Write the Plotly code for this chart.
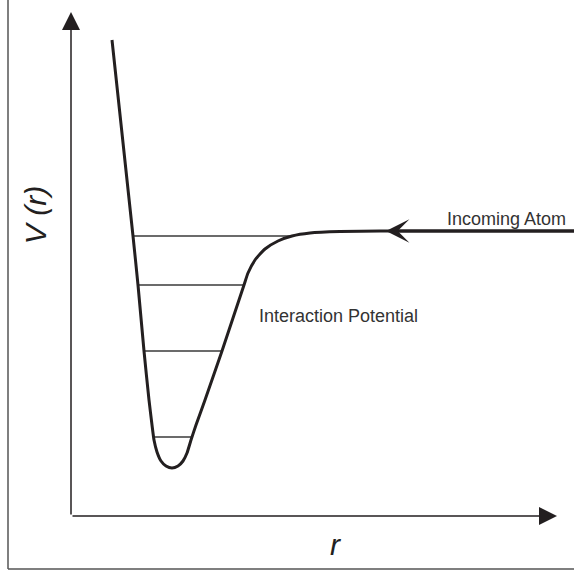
import plotly.graph_objects as go

# Interatomic potential V(r): a deep well with a steep repulsive wall,
# flattening to the dissociation limit (V = 0) at large r.
curve_r = [0.82, 1.24, 1.34, 1.46, 1.56, 1.62, 1.66, 1.72, 1.80, 1.90, 2.02,
           2.14, 2.24, 2.32, 2.40, 2.50, 2.68, 3.02, 3.46, 3.54, 3.68, 3.88,
           4.14, 4.42, 4.78, 5.38, 6.18, 10.06]
curve_V = [3.82, -0.10, -1.08, -2.40, -3.38, -3.88, -4.18, -4.42, -4.60, -4.70,
           -4.74, -4.70, -4.60, -4.44, -4.18, -3.88, -3.38, -2.40, -1.08, -0.84,
           -0.58, -0.36, -0.20, -0.10, -0.04, -0.01, 0.0, 0.0]

# Bound vibrational levels inside the well
level_V = [-0.10, -1.08, -2.40, -4.12]
level_r_left = [1.24, 1.34, 1.46, 1.66]
level_r_right = [4.42, 3.46, 3.02, 2.42]

# Axis extents
r_max = 10.06
V_min, V_max = -5.7, 4.62
r_axis_tip = 9.72
V_axis_tip = 4.38

# Incoming atom arrow along the asymptote
incoming_tip_r = 6.30

INK = "#231f20"
TEXT = "#333333"

fig = go.Figure()

lr, lv = [], []
for v, a, b in zip(level_V, level_r_left, level_r_right):
    lr += [a, b, None]
    lv += [v, v, None]
fig.add_trace(go.Scatter(x=lr, y=lv, mode="lines",
                         line=dict(color="#3a3a3a", width=1.3),
                         hoverinfo="skip"))

fig.add_trace(go.Scatter(x=curve_r, y=curve_V, mode="lines",
                         line=dict(color=INK, width=3, shape="spline",
                                   smoothing=0.5),
                         hoverinfo="skip"))

annotations = [
    # y axis with arrow
    dict(x=0, y=V_axis_tip, ax=0, ay=V_min, xref="x", yref="y",
         axref="x", ayref="y", text="", showarrow=True, arrowhead=2,
         arrowsize=2.4, arrowwidth=1.5, arrowcolor=INK,
         standoff=0, startstandoff=0),
    # x axis with arrow
    dict(x=r_axis_tip, y=V_min, ax=0, ay=V_min, xref="x", yref="y",
         axref="x", ayref="y", text="", showarrow=True, arrowhead=2,
         arrowsize=2.4, arrowwidth=1.5, arrowcolor=INK,
         standoff=0, startstandoff=0),
    # incoming atom arrow
    dict(x=incoming_tip_r, y=0, ax=r_max + 0.2, ay=0, xref="x", yref="y",
         axref="x", ayref="y", text="", showarrow=True, arrowhead=3,
         arrowsize=1.3, arrowwidth=3, arrowcolor=INK,
         standoff=0, startstandoff=0),
    dict(x=9.94, y=0.25, xref="x", yref="y", text="Incoming Atom",
         showarrow=False, xanchor="right", yanchor="middle",
         font=dict(family="Liberation Sans, Arial", size=18, color=TEXT)),
    dict(x=3.72, y=-1.69, xref="x", yref="y", text="Interaction Potential",
         showarrow=False, xanchor="left", yanchor="middle",
         font=dict(family="Liberation Sans, Arial", size=18, color=TEXT)),
    # axis titles
    dict(x=0.525, y=-0.056, xref="paper", yref="paper", text="<i>r</i>",
         showarrow=False, xanchor="center", yanchor="middle",
         font=dict(family="Liberation Sans, Arial", size=30, color=INK)),
    dict(x=-0.0716, y=0.583, xref="paper", yref="paper", text="<i>V (r)</i>",
         showarrow=False, xanchor="center", yanchor="middle", textangle=-90,
         font=dict(family="Liberation Sans, Arial", size=30, color=INK)),
]

# Outer frame (left and bottom edges)
frame_left = (8 - 71) / 503
frame_bottom = (516 - 569) / 516
shapes = [
    dict(type="line", xref="paper", yref="paper", x0=frame_left, x1=frame_left,
         y0=frame_bottom, y1=1.1, line=dict(color="#555555", width=1.5)),
    dict(type="line", xref="paper", yref="paper", x0=frame_left, x1=1.05,
         y0=frame_bottom, y1=frame_bottom, line=dict(color="#555555", width=1.5)),
]

fig.update_layout(
    width=574, height=571,
    margin=dict(l=71, r=0, t=0, b=55),
    paper_bgcolor="white", plot_bgcolor="white",
    showlegend=False,
    xaxis=dict(range=[0, r_max], visible=False, fixedrange=True),
    yaxis=dict(range=[V_min, V_max], visible=False, fixedrange=True),
    annotations=annotations,
    shapes=shapes,
)

fig.write_html("out.html")
